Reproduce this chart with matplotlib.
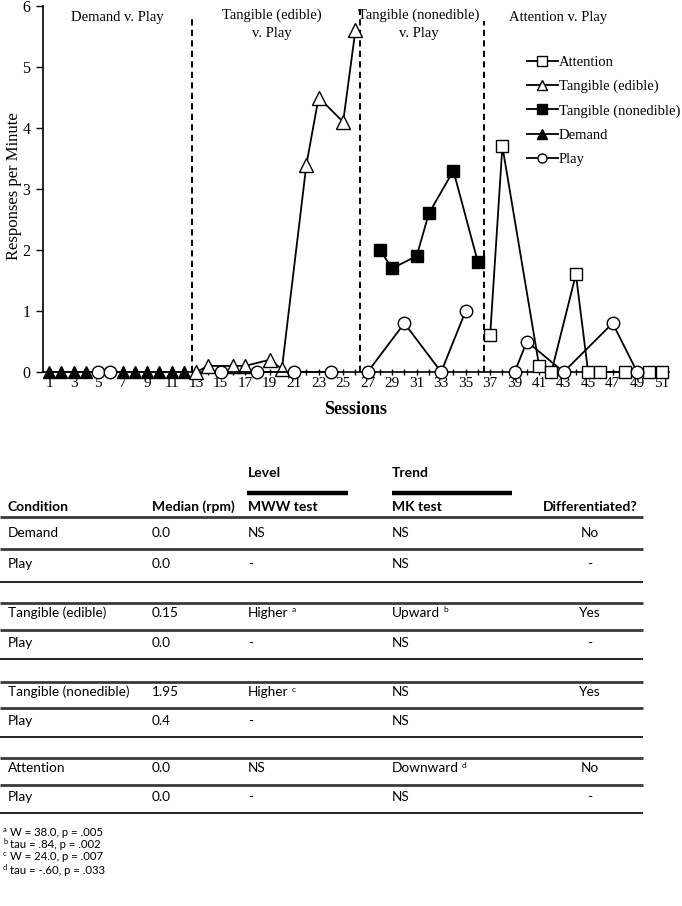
import matplotlib
matplotlib.use("Agg")
import matplotlib.pyplot as plt
from matplotlib.lines import Line2D

# ---------------- data ----------------
demand_sessions = [1, 2, 3, 4, 7, 8, 9, 10, 11, 12]
demand_values = [0, 0, 0, 0, 0, 0, 0, 0, 0, 0]

edible_sessions = [13, 14, 16, 17, 19, 20, 22, 23, 25, 26]
edible_values = [0, 0.1, 0.1, 0.1, 0.2, 0.05, 3.4, 4.5, 4.1, 5.6]

nonedible_sessions = [28, 29, 31, 32, 34, 36]
nonedible_values = [2.0, 1.7, 1.9, 2.6, 3.3, 1.8]

attention_sessions = [37, 38, 41, 42, 44, 45, 46, 48, 50, 51]
attention_values = [0.6, 3.7, 0.1, 0, 1.6, 0, 0, 0, 0, 0]

play1_sessions = [5, 6]
play1_values = [0, 0]
play2_sessions = [15, 18, 21, 24]
play2_values = [0, 0, 0, 0]
play3_sessions = [27, 30, 33, 35]
play3_values = [0, 0.8, 0, 1.0]
play4_sessions = [39, 40, 43, 47, 49]
play4_values = [0, 0.5, 0, 0.8, 0]

phase_changes = [12.65, 26.4, 36.5]
phase_labels = ["Demand v. Play", "Tangible (edible)\nv. Play",
                "Tangible (nonedible)\nv. Play", "Attention v. Play"]

legend_labels = ["Attention", "Tangible (edible)", "Tangible (nonedible)", "Demand", "Play"]

table_header = ["Condition", "Median (rpm)", "MWW test", "MK test", "Differentiated?"]
table_conditions = ["Demand", "Play", "Tangible (edible)", "Play",
                    "Tangible (nonedible)", "Play", "Attention", "Play"]
table_medians = ["0.0", "0.0", "0.15", "0.0", "1.95", "0.4", "0.0", "0.0"]
table_mww = ["NS", "-", "Higher", "-", "Higher", "-", "NS", "-"]
table_mww_sup = ["", "", "a", "", "c", "", "", ""]
table_mk = ["NS", "NS", "Upward", "NS", "NS", "NS", "Downward", "NS"]
table_mk_sup = ["", "", "b", "", "", "", "d", ""]
table_diff = ["No", "-", "Yes", "-", "Yes", "", "No", "-"]

footnote_letters = ["a", "b", "c", "d"]
footnote_texts = ["W = 38.0, p = .005", "tau = .84, p = .002",
                  "W = 24.0, p = .007", "tau = -.60, p = .033"]

# ---------------- figure ----------------
W, H = 682, 906
fig = plt.figure(figsize=(W / 100, H / 100), dpi=100)

def fx(x):
    return x / W

def fy(y):
    return 1 - y / H

serif = "Liberation Serif"
sans = ["Lato", "DejaVu Sans"]

ax = fig.add_axes([fx(43), fy(372), fx(669) - fx(43), fy(6) - fy(372)])
ax.set_xlim(0.5, 51.6)
ax.set_ylim(0, 6)
ax.spines["top"].set_visible(False)
ax.spines["right"].set_visible(False)
for s in ["left", "bottom"]:
    ax.spines[s].set_linewidth(1.2)
ax.set_xticks(range(1, 52))
ax.set_xticklabels([str(i) if i % 2 == 1 else "" for i in range(1, 52)],
                   family=serif, fontsize=11)
ax.set_yticks(range(0, 7))
ax.set_yticklabels([str(i) for i in range(0, 7)], family=serif, fontsize=11.5)
ax.tick_params(axis="x", direction="inout", length=5, width=1, pad=1)
ax.tick_params(axis="y", direction="out", length=5, width=1, pad=4)
fig.text(fx(14), fy(186), "Responses per Minute", family=serif, fontsize=12,
         rotation=90, ha="center", va="center")
ax.set_xlabel("Sessions", family=serif, fontsize=13, fontweight="bold", labelpad=8)

ms = 9
common = dict(color="black", lw=1.3, clip_on=False, zorder=3, markeredgewidth=1)
ax.plot(demand_sessions, demand_values, marker="^", markersize=ms,
        markerfacecolor="black", **common)
ax.plot(edible_sessions, edible_values, marker="^", markersize=ms + 0.5,
        markerfacecolor="white", **common)
ax.plot(nonedible_sessions, nonedible_values, marker="s", markersize=ms - 0.3,
        markerfacecolor="black", **common)
ax.plot(attention_sessions, attention_values, marker="s", markersize=ms - 0.3,
        markerfacecolor="white", **common)
for xs, ys in [(play1_sessions, play1_values), (play2_sessions, play2_values),
               (play3_sessions, play3_values), (play4_sessions, play4_values)]:
    ax.plot(xs, ys, marker="o", markersize=ms, markerfacecolor="white", **common)

for xpos, top in zip(phase_changes, [5.85, 5.95, 5.75]):
    ax.plot([xpos, xpos], [0, top], color="black", lw=1.4,
            linestyle=(0, (3.2, 2.2)), zorder=2)

label_pos = [(117, 17), (272, 24.5), (419, 24.5), (558, 17)]
for (lx, ly), txt in zip(label_pos, phase_labels):
    fig.text(fx(lx), fy(ly), txt, family=serif, fontsize=10.5,
             ha="center", va="center", linespacing=1.45)

handles = [
    Line2D([], [], color="black", lw=1.3, marker="s", markersize=6.5,
           markerfacecolor="white"),
    Line2D([], [], color="black", lw=1.3, marker="^", markersize=7,
           markerfacecolor="white"),
    Line2D([], [], color="black", lw=1.3, marker="s", markersize=6.5,
           markerfacecolor="black"),
    Line2D([], [], color="black", lw=1.3, marker="^", markersize=7,
           markerfacecolor="black"),
    Line2D([], [], color="black", lw=1.3, marker="o", markersize=6.5,
           markerfacecolor="white"),
]
fig.legend(handles, legend_labels, loc="upper left",
           bbox_to_anchor=(fx(527), fy(56)), frameon=False,
           prop={"family": serif, "size": 10.5}, handlelength=2.1,
           handletextpad=0.1, labelspacing=0.74, borderpad=0, borderaxespad=0)

# ---------------- table ----------------
fs = 9.8
hfs = 10
col_x = [8, 152, 248, 392]
diff_x = 590

fig.text(fx(248), fy(473), "Level", family=sans, fontsize=hfs, fontweight="bold",
         ha="left", va="center")
fig.text(fx(392), fy(473), "Trend", family=sans, fontsize=hfs, fontweight="bold",
         ha="left", va="center")

def hline(y, x0, x1, lw, color="black"):
    fig.add_artist(Line2D([fx(x0), fx(x1)], [fy(y), fy(y)], lw=lw, color=color,
                          transform=fig.transFigure, solid_capstyle="butt"))

hline(493, 247, 348, 3.2)
hline(493, 392, 512, 3.2)

for i, h in enumerate(table_header[:4]):
    fig.text(fx(col_x[i]), fy(507), h, family=sans, fontsize=hfs,
             fontweight="bold", ha="left", va="center")
fig.text(fx(diff_x), fy(507), table_header[4], family=sans, fontsize=hfs,
         fontweight="bold", ha="center", va="center")

fig.canvas.draw()
renderer = fig.canvas.get_renderer()

def sup_after(txt_obj, letter, y):
    bb = txt_obj.get_window_extent(renderer=renderer)
    fig.text(fx(bb.x1 + 3), fy(y - 3), letter, family=sans, fontsize=6,
             ha="left", va="center")

row_y = [533, 564, 613, 643, 692, 721, 768, 797]
for i, y in enumerate(row_y):
    fig.text(fx(col_x[0]), fy(y), table_conditions[i], family=sans, fontsize=fs,
             ha="left", va="center")
    fig.text(fx(col_x[1]), fy(y), table_medians[i], family=sans, fontsize=fs,
             ha="left", va="center")
    t = fig.text(fx(col_x[2]), fy(y), table_mww[i], family=sans, fontsize=fs,
                 ha="left", va="center")
    if table_mww_sup[i]:
        sup_after(t, table_mww_sup[i], y)
    t = fig.text(fx(col_x[3]), fy(y), table_mk[i], family=sans, fontsize=fs,
                 ha="left", va="center")
    if table_mk_sup[i]:
        sup_after(t, table_mk_sup[i], y)
    fig.text(fx(diff_x), fy(y), table_diff[i], family=sans, fontsize=fs,
             ha="center", va="center")

thick_lines = [517, 549, 603, 630, 682, 708, 758, 785]
thin_lines = [582, 659, 737, 813]
for y in thick_lines:
    hline(y, 0, 643, 2.0, "#3a3a3a")
for y in thin_lines:
    hline(y, 0, 643, 1.2, "black")

foot_y = [832, 845, 857, 870]
for y, letter, txt in zip(foot_y, footnote_letters, footnote_texts):
    fig.text(fx(3), fy(y - 3), letter, family=sans, fontsize=5.5, ha="left", va="center")
    fig.text(fx(10), fy(y), txt, family=sans, fontsize=8.2, ha="left", va="center")

fig.savefig("out.png", dpi=100)
